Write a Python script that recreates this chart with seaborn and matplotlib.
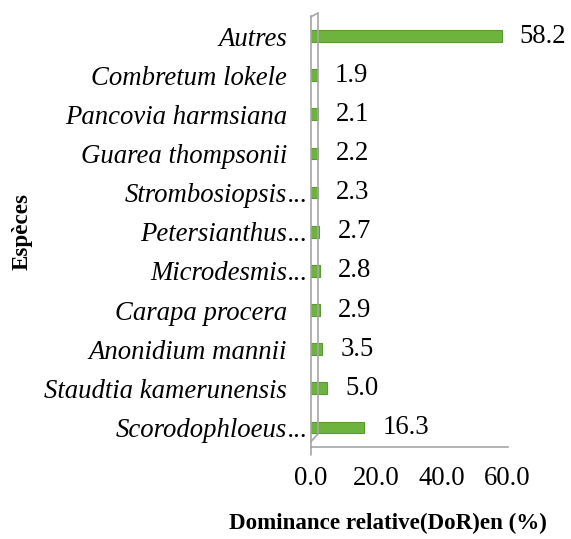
import matplotlib
matplotlib.use("Agg")
import matplotlib.pyplot as plt
import seaborn as sns
import pandas as pd
from matplotlib.lines import Line2D

especes = ["Autres", "Combretum lokele", "Pancovia harmsiana", "Guarea thompsonii",
           "Strombosiopsis…", "Petersianthus…", "Microdesmis…", "Carapa procera",
           "Anonidium mannii", "Staudtia kamerunensis", "Scorodophloeus…"]
dominance = [58.2, 1.9, 2.1, 2.2, 2.3, 2.7, 2.8, 2.9, 3.5, 5.0, 16.3]
xticks = [0, 20, 40, 60]

df = pd.DataFrame({"Espèces": especes, "DoR": dominance})

sns.set_style("white")
plt.rcParams['font.family'] = ['Liberation Serif', 'DejaVu Serif']
plt.rcParams['text.color'] = 'black'
plt.rcParams['xtick.labelcolor'] = 'black'
plt.rcParams['ytick.labelcolor'] = 'black'
plt.rcParams['axes.labelcolor'] = 'black'

FS = 19.3
GRAY = '#a6a6a6'

fig = plt.figure(figsize=(5.71, 5.39), dpi=100)
ax = fig.add_axes([0.544, 0.1707, 0.345, 0.7987])

sns.barplot(data=df, x="DoR", y="Espèces", orient="h", color="#6fb33f",
            edgecolor="#5a9a32", linewidth=0.8, width=0.3, ax=ax, saturation=1)

ax.set_xlim(0, 60)
ax.set_ylim(len(especes) - 0.5, -0.5)
ax.set_xticks(xticks)
ax.set_xticklabels([f"{v:.1f}" for v in xticks], fontsize=FS)
ax.tick_params(axis='x', direction='out', length=6, color=GRAY, width=1.2, pad=8,
               labelcolor='black')
ax.tick_params(axis='y', length=0, pad=17, labelcolor='black')

# y tick labels: names, with ellipsis drawn separately close to the wall
ax.set_yticks(range(len(especes)))
ax.set_yticklabels([e.rstrip("…") for e in especes], fontsize=FS, fontstyle='italic')
for i, e in enumerate(especes):
    if e.endswith("…"):
        ax.annotate("...", xy=(0, i), xytext=(-1.5, 0), textcoords="offset points",
                    ha="right", va="center_baseline", fontsize=FS, fontstyle='italic',
                    annotation_clip=False, color='black')

for s in ["top", "right"]:
    ax.spines[s].set_visible(False)
for s in ["left", "bottom"]:
    ax.spines[s].set_color(GRAY)
    ax.spines[s].set_linewidth(1.2)

# 3D-like wall lines
trans = ax.transAxes
kw = dict(transform=trans, color=GRAY, lw=1.2, clip_on=False)
ax.add_line(Line2D([0.037, 0.037], [0.03, 1.008], **kw))
ax.add_line(Line2D([0.0, 0.037], [0.999, 1.008], **kw))
ax.add_line(Line2D([0.0, 0.037], [0.012, 0.03], **kw))
ax.add_line(Line2D([0.0, 0.0], [0.0, -0.018], **kw))

for i, v in enumerate(dominance):
    ax.annotate(f"{v:.1f}", xy=(v, i), xytext=(13, 0), textcoords="offset points",
                va="center", ha="left", fontsize=FS, annotation_clip=False, color='black')

ax.set_xlabel("Dominance relative(DoR)en (%)", fontsize=16.6, fontweight='bold', color='black')
ax.set_ylabel("Espèces", fontsize=16.6, fontweight='bold', color='black')
ax.yaxis.set_label_coords(-1.41, 0.5)
ax.xaxis.set_label_coords(0.392, -0.153)

fig.savefig("out.png", dpi=100)
